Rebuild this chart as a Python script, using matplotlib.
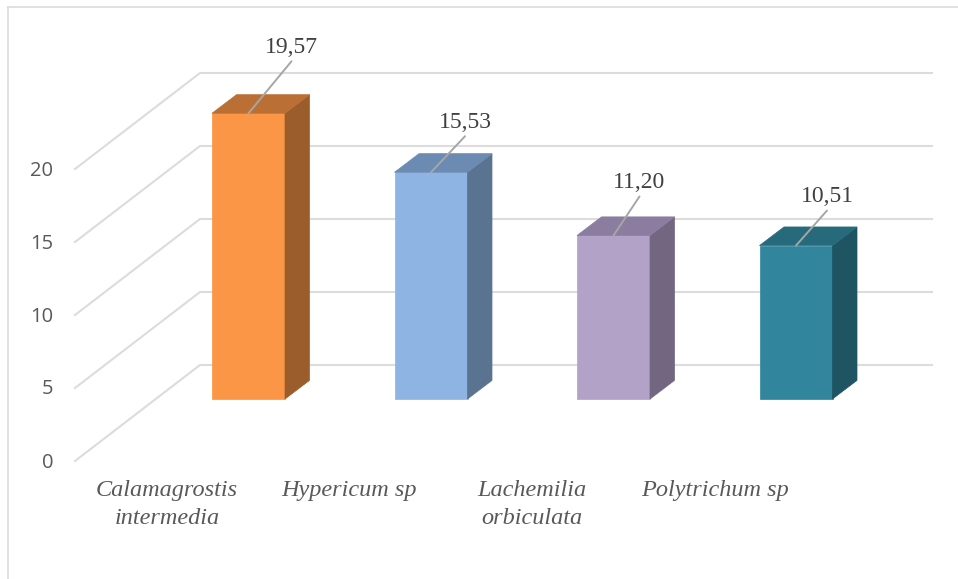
import matplotlib
matplotlib.use('Agg')
import matplotlib.pyplot as plt

species = ['Calamagrostis\nintermedia', 'Hypericum sp', 'Lachemilia\norbiculata', 'Polytrichum sp']
values = [19.57, 15.53, 11.20, 10.51]
value_labels = ['19,57', '15,53', '11,20', '10,51']
y_ticks = [0, 5, 10, 15, 20]

front_colors = ['#FB9646', '#8EB4E3', '#B3A2C7', '#31859C']
side_colors = ['#9B5D2B', '#5A7391', '#736681', '#1F5563']
top_colors = ['#BA7034', '#6C8BB3', '#8B7DA0', '#276A7C']

# label offset from the bar's top centre, in pixels
label_dx = [43, 34, 26, 31]
label_dy = [66, 50, 53, 49]

W, H = 958, 579
PX_X = 182.5   # pixels per category
PX_Y = 14.6    # pixels per value unit
X0, Y0 = 248.5, 461

fig = plt.figure(figsize=(W / 100, H / 100), dpi=100)
ax = fig.add_axes([0, 0, 1, 1])
ax.set_xlim(-X0 / PX_X, (W - X0) / PX_X)
ax.set_ylim(-(H - Y0) / PX_Y, Y0 / PX_Y)
ax.axis('off')

# oblique floor and bar depth, in data units
wall_dx, wall_dy = 125 / PX_X, 96 / PX_Y
front_x = (75 - X0) / PX_X
right_x = (932 - X0) / PX_X
bar_w = 73 / PX_X
bar_base = 62 / PX_Y
depth_x, depth_y = 24.5 / PX_X, 18.6 / PX_Y

grid_c = '#DCDCDC'
for t in y_ticks:
    ax.plot([front_x, front_x + wall_dx, right_x], [t, t + wall_dy, t + wall_dy],
            color=grid_c, lw=1.5, zorder=1, solid_joinstyle='miter')
    ax.text(front_x - 22 / PX_X, t - 1.5 / PX_Y, str(t), ha='right', va='center',
            family='Open Sans', fontsize=14.5, color='#595959')

for i, v in enumerate(values):
    x1 = i - bar_w / 2
    x2 = i + bar_w / 2
    y1 = bar_base
    y2 = bar_base + v
    # front, side and top faces of the box
    ax.fill([x1, x2, x2, x1], [y1, y1, y2, y2], color=front_colors[i], lw=0.5, zorder=3)
    ax.fill([x2, x2 + depth_x, x2 + depth_x, x2],
            [y1, y1 + depth_y, y2 + depth_y, y2], color=side_colors[i], lw=0.5, zorder=3)
    ax.fill([x1, x2, x2 + depth_x, x1 + depth_x],
            [y2, y2, y2 + depth_y, y2 + depth_y], color=top_colors[i], lw=0.5, zorder=3)

    # value label with leader line
    dx, dy = label_dx[i], label_dy[i]
    ax.annotate('', xy=(i, y2), xytext=(dx, dy - 14), textcoords='offset pixels',
                xycoords='data', zorder=4,
                arrowprops=dict(arrowstyle='-', color='#A6A6A6', lw=1.4,
                                shrinkA=0, shrinkB=0))
    ax.annotate(value_labels[i], xy=(i, y2), xytext=(dx, dy), textcoords='offset pixels',
                ha='center', va='center', family='Liberation Serif', fontsize=17,
                color='#404040', zorder=5)

    ax.text(i - 81.5 / PX_X, -(480 - Y0) / PX_Y, species[i], ha='center', va='top',
            family='Liberation Serif', style='italic', fontsize=17.5, color='#595959',
            linespacing=1.45)

# chart area border
left_x = (7.5 - X0) / PX_X
top_y = (Y0 - 6.5) / PX_Y
ax.plot([left_x, left_x], [-(H - Y0) / PX_Y, top_y], color=grid_c, lw=1.2, zorder=1)
ax.plot([left_x, (W - X0) / PX_X], [top_y, top_y], color=grid_c, lw=1.2, zorder=1)

fig.savefig('out.png', dpi=100, facecolor='white')
